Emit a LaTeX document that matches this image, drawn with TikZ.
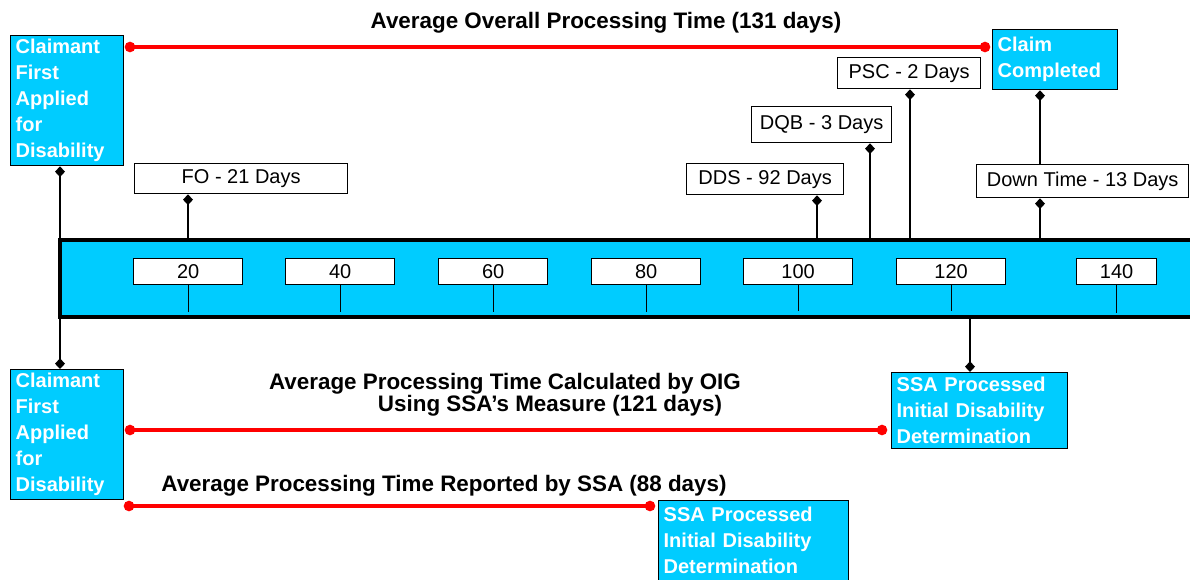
\documentclass[tikz,border=0pt]{standalone}
\usepackage{fontspec}
\setmainfont{Liberation Sans}
\usetikzlibrary{arrows.meta}
\definecolor{skyfill}{RGB}{0,204,255}

\begin{document}
\begin{tikzpicture}[x=0.75pt, y=-0.75pt,
    event/.style={draw, fill=skyfill, line width=1pt, text=white, align=left,
        font=\bfseries\fontsize{15}{19.5}\selectfont, anchor=north west,
        inner xsep=3.75pt, inner ysep=0pt},
    stagebox/.style={draw, fill=white, line width=1pt, anchor=north west,
        font=\fontsize{15}{18}\selectfont, inner sep=0pt},
    numbox/.style={stagebox, minimum width=81.75pt, minimum height=19.5pt},
    headline/.style={font=\bfseries\fontsize{16.8}{20}\selectfont, anchor=base},
    link/.style={line width=1.5pt, -{Diamond[length=8pt,width=7.5pt]}},
    scaleline/.style={line width=1pt},
    spanline/.style={red, line width=3pt}]
    \useasboundingbox (0,0) rectangle (1190,579);
    \clip (0,0) rectangle (1190,579);

    % time scale
    \node[draw, fill=skyfill, line width=3pt, minimum width=862.5pt, minimum height=58.1pt,
        inner sep=0pt, outer sep=0pt] (band) at (635,278.75) {};
    \node[numbox] (n20) at (133,258) {20};
    \node[numbox] (n40) at (285,258) {40};
    \node[numbox] (n60) at (438,258) {60};
    \node[numbox] (n80) at (591,258) {80};
    \node[numbox] (n100) at (743,258) {100};
    \node[numbox] (n120) at (896,258) {120};
    \node[numbox, minimum width=60pt] (n140) at (1076,258) {140};
    \draw[scaleline] (n20.south) -- ++(0,27);
    \draw[scaleline] (n40.south) -- ++(0,27);
    \draw[scaleline] (n60.south) -- ++(0,27);
    \draw[scaleline] (n80.south) -- ++(0,27);
    \draw[scaleline] (n100.south) -- ++(0,26);
    \draw[scaleline] (n120.south) -- ++(0,26);
    \draw[scaleline] (n140.south) -- ++(0,28);

    % start, end and stage boxes
    \node[event, text width=77.25pt, minimum height=97.5pt] (start1) at (10,35) {Claimant\\First\\Applied\\for\\Disability};
    \node[event, text width=86.25pt, minimum height=45pt] (done) at (992,29) {Claim\\Completed};
    \node[event, text width=77.25pt, minimum height=97.5pt] (start2) at (10,369) {Claimant\\First\\Applied\\for\\Disability};
    \node[event, text width=124.5pt, minimum height=57pt] (ssa1) at (891,372) {SSA Processed\\Initial Disability\\Determination};
    \node[event, text width=135pt, minimum height=60pt] (ssa2) at (658,500) {SSA Processed\\Initial Disability\\Determination};
    \node[stagebox, minimum width=159.75pt, minimum height=22.5pt] (fo) at (134,163) {FO - 21 Days};
    \node[stagebox, minimum width=117.75pt, minimum height=23.25pt] (dds) at (686,163) {DDS - 92 Days};
    \node[stagebox, minimum width=105pt, minimum height=27pt] (dqb) at (751,106) {DQB - 3 Days};
    \node[stagebox, minimum width=107.25pt, minimum height=23.25pt] (psc) at (837,57) {PSC - 2 Days};
    \node[stagebox, minimum width=159pt, minimum height=24.75pt] (down) at (976,164) {Down Time - 13 Days};

    % stage connectors
    \coordinate (pfo) at (188,240);
    \coordinate (pdds) at (817,240);
    \coordinate (pdqb) at (870,240);
    \coordinate (ppsc) at (910,240);
    \coordinate (pdown) at (1040,240);
    \coordinate (pssa) at (970,317.5);
    \draw[link] (band.north west) -- (band.north west |- start1.south);
    \draw[link] (band.south west) -- (band.south west |- start2.north);
    \draw[link] (pfo) -- (pfo |- fo.south);
    \draw[link] (pdds) -- (pdds |- dds.south);
    \draw[link] (pdqb) -- (pdqb |- dqb.south);
    \draw[link] (ppsc) -- (ppsc |- psc.south);
    \draw[link] (pdown) -- (pdown |- down.south);
    \draw[link] (pdown |- down.north) -- (pdown |- done.south);
    \draw[link] (pssa) -- (pssa |- ssa1.north);

    % processing time spans
    \coordinate (a1) at (130,47);
    \coordinate (b1) at (985,47);
    \coordinate (a2) at (130,430);
    \coordinate (b2) at (882,430);
    \coordinate (a3) at (129,506);
    \coordinate (b3) at (650,506);
    \draw[spanline] (a1) -- (b1);
    \draw[spanline] (a2) -- (b2);
    \draw[spanline] (a3) -- (b3);
    \fill[red] (a1) circle[radius=4pt] (b1) circle[radius=4pt];
    \fill[red] (a2) circle[radius=4pt] (b2) circle[radius=4pt];
    \fill[red] (a3) circle[radius=4pt] (b3) circle[radius=4pt];
    \node[headline] (h1) at (606,28) {Average Overall Processing Time (131 days)};
    \node[headline] (h2) at (505,389) {Average Processing Time Calculated by OIG};
    \node[headline] (h2b) at (550,411) {Using SSA's Measure (121 days)};
    \node[headline] (h3) at (444,491) {Average Processing Time Reported by SSA (88 days)};
\end{tikzpicture}
\end{document}
